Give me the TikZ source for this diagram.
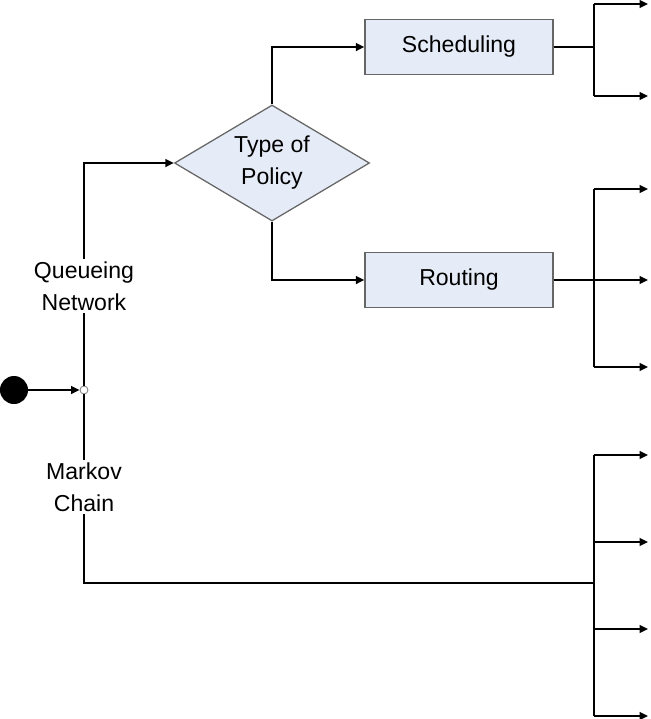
\documentclass[tikz,border=0pt]{standalone}
\usepackage{fontspec}
\setmainfont{Liberation Sans}
\usetikzlibrary{arrows.meta,shapes.geometric}
\definecolor{boxfill}{HTML}{E6ECF7}
\definecolor{boxline}{HTML}{666666}

\begin{document}
\begin{tikzpicture}[x=0.025cm, y=-0.025cm,
  font=\fontsize{16.4}{22.8}\selectfont,
  line/.style={line width=1.4pt},
  arr/.style={line, -{Triangle[length=6pt, width=5.5pt]}},
  box/.style={draw=boxline, line width=0.9pt, fill=boxfill,
    minimum width=4.7cm, minimum height=1.375cm, inner sep=0pt},
  policy/.style={diamond, draw=boxline, line width=0.9pt, fill=boxfill,
    aspect=1.68, minimum width=4.875cm, minimum height=2.9cm,
    inner sep=0pt, align=center},
  lbl/.style={fill=white, align=center, inner sep=2pt}]
  \useasboundingbox (0,0) rectangle (651,719);

  % Start and junction
  \node[circle, fill=black, minimum size=0.7cm, inner sep=0pt] (src) at (14,390) {};
  \node[circle, draw=gray, fill=white, line width=0.6pt,
        minimum size=0.2cm, inner sep=0pt] (jn) at (84,390) {};

  % Decision and boxes
  \node[policy] (pol) at (272,163) {Type of\\Policy};
  \node[box] (sched) at (459,47) {Scheduling};
  \node[box] (rout) at (459,280) {Routing};

  % Hubs of the branch fans
  \coordinate (hubS) at (594,47);
  \coordinate (hubR) at (594,280);
  \coordinate (hubM) at (594,583);

  % Main connectors
  \draw[arr] (src) -- (jn);
  \draw[arr] (jn.north) |- (pol.west);
  \draw[line] (jn.south) |- (hubM);
  \draw[arr] (pol.north) |- (sched.west);
  \draw[arr] (pol.south) |- (rout.west);
  \draw[line] (sched.east) -- (hubS);
  \draw[line] (rout.east) -- (hubR);

  % Branch fans
  \draw[line] (594,4) -- (594,96);
  \foreach \y in {4,96}
    \draw[arr] (594,\y) -- (648,\y);
  \draw[line] (594,189) -- (594,367);
  \foreach \y in {189,280,367}
    \draw[arr] (594,\y) -- (648,\y);
  \draw[line] (594,455) -- (594,716);
  \foreach \y in {455,542,629,716}
    \draw[arr] (594,\y) -- (648,\y);

  % Labels on the trunk
  \node[lbl] (qn) at (84,286) {Queueing\\Network};
  \node[lbl] (mc) at (84,487) {Markov\\Chain};
\end{tikzpicture}
\end{document}
